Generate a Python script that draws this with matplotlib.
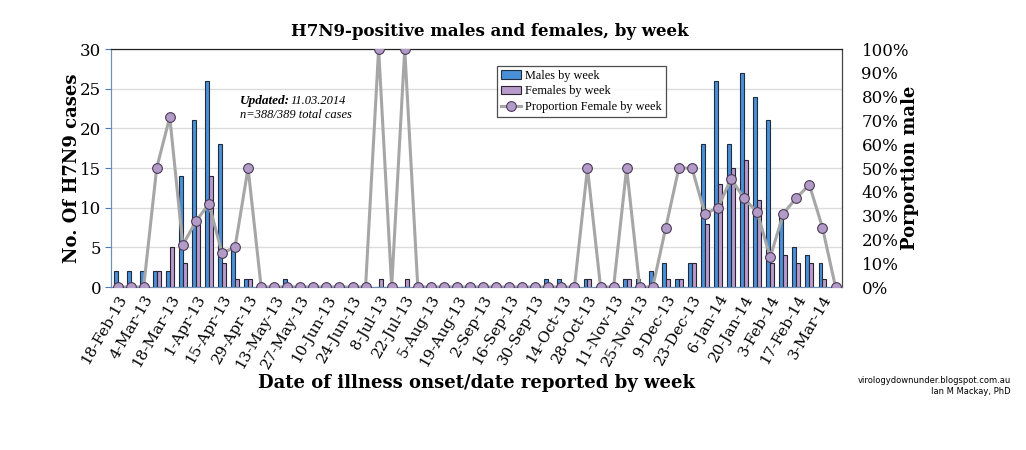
import matplotlib
matplotlib.use("Agg")
import matplotlib.pyplot as plt
import numpy as np
from matplotlib.ticker import PercentFormatter

# weekly H7N9 counts, 18-Feb-13 .. 10-Mar-14
weeks = ["18-Feb-13", "25-Feb-13", "4-Mar-13", "11-Mar-13", "18-Mar-13", "25-Mar-13",
         "1-Apr-13", "8-Apr-13", "15-Apr-13", "22-Apr-13", "29-Apr-13", "6-May-13",
         "13-May-13", "20-May-13", "27-May-13", "3-Jun-13", "10-Jun-13", "17-Jun-13",
         "24-Jun-13", "1-Jul-13", "8-Jul-13", "15-Jul-13", "22-Jul-13", "29-Jul-13",
         "5-Aug-13", "12-Aug-13", "19-Aug-13", "26-Aug-13", "2-Sep-13", "9-Sep-13",
         "16-Sep-13", "23-Sep-13", "30-Sep-13", "7-Oct-13", "14-Oct-13", "21-Oct-13",
         "28-Oct-13", "4-Nov-13", "11-Nov-13", "18-Nov-13", "25-Nov-13", "2-Dec-13",
         "9-Dec-13", "16-Dec-13", "23-Dec-13", "30-Dec-13", "6-Jan-14", "13-Jan-14",
         "20-Jan-14", "27-Jan-14", "3-Feb-14", "10-Feb-14", "17-Feb-14", "24-Feb-14",
         "3-Mar-14", "10-Mar-14"]

males = [2, 2, 2, 2, 2, 14, 21, 26, 18, 5, 1, 0, 0, 1, 0, 0, 0, 0, 0, 0, 0, 0, 0, 0,
         0, 0, 0, 0, 0, 0, 0, 0, 0, 1, 1, 0, 1, 0, 0, 1, 1, 2, 3, 1, 3, 18, 26, 18,
         27, 24, 21, 9, 5, 4, 3, 0]
females = [0, 0, 0, 2, 5, 3, 8, 14, 3, 1, 1, 0, 0, 0, 0, 0, 0, 0, 0, 0, 1, 0, 1, 0,
           0, 0, 0, 0, 0, 0, 0, 0, 0, 0, 0, 0, 1, 0, 0, 1, 0, 0, 1, 1, 3, 8, 13, 15,
           16, 11, 3, 4, 3, 3, 1, 0]

m = np.array(males, dtype=float)
f = np.array(females, dtype=float)
tot = m + f
prop_female = np.where(tot > 0, f / np.where(tot > 0, tot, 1), 0.0)

plt.rcParams['font.family'] = ["DejaVu Serif"]
times = ["Liberation Serif"]

fig = plt.figure(figsize=(10.26, 4.5), dpi=100)
ax = fig.add_axes([0.1082, 0.3622, 0.7125, 0.5289])
ax2 = ax.twinx()

x = np.arange(len(weeks))
w = 0.3
ax.bar(x - w / 2, m, width=w, color="#4a90d9", edgecolor="#1f2d3d", linewidth=0.8,
       label="Males by week", zorder=2)
ax.bar(x + w / 2, f, width=w, color="#b79ccb", edgecolor="#2d2233", linewidth=0.8,
       label="Females by week", zorder=2)

ax2.plot(x, prop_female, color="#a6a6a6", linewidth=2.2, marker="o", markersize=7,
         markerfacecolor="#b39bc8", markeredgecolor="#4b3a57", markeredgewidth=0.8,
         label="Proportion Female by week", zorder=3)

ax.set_xlim(-0.5, len(weeks) - 0.5)
ax.set_ylim(0, 30)
ax.set_yticks(range(0, 31, 5))
ax.yaxis.grid(True, color="#dcdcdc", linewidth=1.0, zorder=0)
ax.set_axisbelow(True)
ax2.set_ylim(0, 1)
ax2.set_yticks(np.arange(0, 1.01, 0.1))
ax2.yaxis.set_major_formatter(PercentFormatter(1.0, decimals=0))

ax.set_xticks(x[::2])
ax.set_xticklabels(weeks[::2], rotation=60, ha="right", rotation_mode="anchor",
                   fontsize=11)
ax.tick_params(axis="x", length=0, pad=4)
ax.tick_params(axis="y", labelsize=12, length=4, color="#4a7ebb", pad=3)
ax2.tick_params(axis="y", labelsize=12, length=0, pad=14)

for sp in ["left", "bottom"]:
    ax.spines[sp].set_color("#6f8fb5")
    ax2.spines[sp].set_color("#6f8fb5")
ax2.spines["top"].set_color("#222222")
ax2.spines["right"].set_color("#444444")

ax.set_ylabel("No. Of H7N9 cases", fontsize=13, fontweight="bold", labelpad=-1)
ax2.set_ylabel("Porportion male", fontsize=13, fontweight="bold", labelpad=-6)
ax.set_xlabel("Date of illness onset/date reported by week", fontsize=13,
              fontweight="bold", labelpad=2)
fig.text(0.4776, 0.93, "H7N9-positive males and females, by week", fontsize=12,
         fontweight="bold", ha="center", va="center")

ax.text(0.176, 0.77, "Updated:", transform=ax.transAxes, fontsize=9.5,
        fontweight="bold", style="italic", ha="left", va="baseline", family=times)
ax.text(0.246, 0.77, "11.03.2014", transform=ax.transAxes, fontsize=9,
        style="italic", ha="left", va="baseline", family=times)
ax.text(0.176, 0.71, "n=388/389 total cases", transform=ax.transAxes, fontsize=9,
        style="italic", ha="left", va="baseline", family=times)

h1, l1 = ax.get_legend_handles_labels()
h2, l2 = ax2.get_legend_handles_labels()
leg = ax2.legend(h1 + h2, l1 + l2, loc="upper left", bbox_to_anchor=(0.528, 0.928),
                 frameon=True, fancybox=False, borderpad=0.3,
                 labelspacing=0.3, handlelength=1.7, handletextpad=0.3,
                 borderaxespad=0, prop={"family": times, "size": 8.8})
leg.get_frame().set_edgecolor("#222222")
leg.get_frame().set_linewidth(0.9)

fig.text(0.985, 0.148, "virologydownunder.blogspot.com.au", ha="right",
         fontsize=6, family=["DejaVu Sans"])
fig.text(0.985, 0.125, "Ian M Mackay, PhD", ha="right", fontsize=6,
         family=["DejaVu Sans"])

fig.savefig("out.png", dpi=100)
